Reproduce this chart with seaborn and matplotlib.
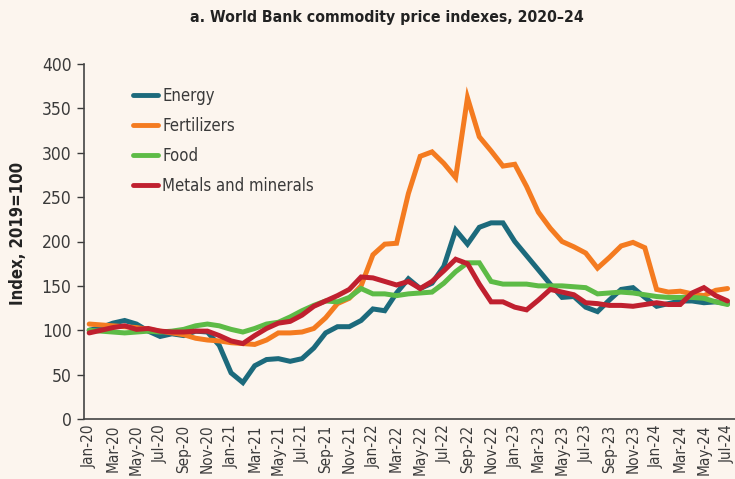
import pandas as pd
import matplotlib
matplotlib.use("Agg")
import matplotlib.pyplot as plt
from matplotlib import font_manager
import seaborn as sns

# monthly labels Jan-20 .. Jul-24
months = pd.date_range("2020-01-01", "2024-07-01", freq="MS").strftime("%b-%y").tolist()

energy = [100, 103, 108, 111, 107, 99, 93, 96, 94, 99, 98, 83, 52, 41, 60, 67, 68, 65, 68, 80,
          97, 104, 104, 111, 124, 122, 142, 158, 147, 153, 172, 213, 197, 216, 221, 221, 200, 184,
          168, 152, 137, 138, 126, 121, 134, 146, 148, 137, 127, 130, 133, 133, 131, 132, 130]
fertilizers = [107, 106, 105, 104, 103, 101, 99, 97, 95, 91, 89, 88, 86, 85, 84, 89, 97, 97, 98,
               102, 114, 130, 136, 150, 185, 197, 198, 254, 296, 301, 288, 272, 362, 318, 302, 285,
               287, 262, 233, 215, 200, 194, 187, 170, 182, 195, 199, 193, 146, 143, 144, 141, 139,
               145, 147]
food = [100, 99, 98, 97, 98, 99, 98, 99, 101, 105, 107, 105, 101, 98, 102, 107, 109, 115, 122, 128,
        133, 132, 137, 147, 141, 141, 139, 141, 142, 143, 153, 166, 176, 176, 155, 152, 152, 152,
        150, 150, 150, 149, 148, 141, 142, 143, 142, 140, 138, 137, 137, 137, 136, 132, 129]
metals = [97, 100, 103, 105, 101, 102, 99, 98, 98, 99, 99, 94, 88, 85, 94, 102, 108, 110, 117, 127,
          133, 139, 146, 160, 159, 155, 151, 155, 147, 155, 167, 180, 175, 152, 132, 132, 126, 123,
          134, 146, 143, 140, 131, 130, 128, 128, 127, 129, 131, 129, 129, 142, 148, 139, 133]

series_names = ["Energy", "Fertilizers", "Food", "Metals and minerals"]
series_colors = ["#1c6a7c", "#f47b20", "#5dbb46", "#c0202f"]
bg = "#fcf5ee"
text_col = "#3a3a3a"

df = pd.DataFrame({"month": months, "Energy": energy, "Fertilizers": fertilizers,
                   "Food": food, "Metals and minerals": metals})
df["pos"] = range(len(df))
long = df.melt(id_vars=["month", "pos"], var_name="series", value_name="index")

sns.set_style("white")
# narrowest face available, condensed if the system has one
names = {f.name for f in font_manager.fontManager.ttflist}
narrow = [n for n in ["Liberation Sans Narrow", "DejaVu Sans Condensed"] if n in names]
plt.rcParams["font.family"] = narrow + ["DejaVu Sans"]
plt.rcParams["font.stretch"] = "condensed"

fig = plt.figure(figsize=(7.35, 4.79), dpi=100, facecolor=bg)
ax = fig.add_axes([84 / 735, 60 / 479, 651 / 735, 355 / 479])
ax.set_facecolor(bg)

sns.lineplot(data=long, x="pos", y="index", hue="series", hue_order=series_names,
             palette=series_colors, linewidth=3.6, ax=ax, sort=False,
             solid_joinstyle="miter")

ax.set_xlim(-0.44, 54.63)
ax.set_ylim(0, 400)
ax.set_yticks(range(0, 401, 50))
ax.set_xticks(df["pos"][::2])
ax.set_xticklabels(df["month"][::2], rotation=90, fontsize=11, color=text_col)
ax.tick_params(axis="y", labelsize=12.5, colors=text_col, length=5, width=1, direction="out", pad=4)
ax.tick_params(axis="x", length=0, pad=4)
ax.yaxis.set_ticks_position("left")

for s in ["top", "right"]:
    ax.spines[s].set_visible(False)
for s in ["left", "bottom"]:
    ax.spines[s].set_color("#444444")
    ax.spines[s].set_linewidth(1.2)

ax.set_xlabel("")
ax.set_ylabel("Index, 2019=100", fontsize=12, fontweight="bold", color="#222222")
ax.yaxis.set_label_coords(-0.088, 0.524)

leg = ax.legend(loc="upper left", bbox_to_anchor=(0.0753, 0.935), frameon=False, fontsize=12,
                handlelength=1.5, handletextpad=0.25, labelspacing=0.72, borderpad=0,
                borderaxespad=0)
for line in leg.get_lines():
    line.set_linewidth(3.5)
    line.set_solid_capstyle("round")
for t in leg.get_texts():
    t.set_color(text_col)

fig.text(0.526, 0.964, "a. World Bank commodity price indexes, 2020\u201324", ha="center",
         va="center", fontsize=11.3, fontweight="bold", color="#222222")

fig.savefig("out.png", dpi=100, facecolor=bg)
